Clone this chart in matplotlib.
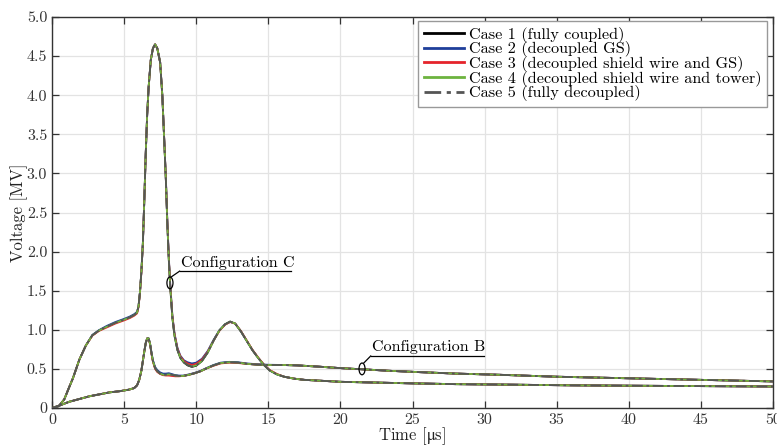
import matplotlib
matplotlib.use("Agg")
import matplotlib.pyplot as plt
from matplotlib.patches import Ellipse

plt.rcParams['font.family'] = ['cmr10', 'DejaVu Serif']
plt.rcParams['mathtext.fontset'] = 'stix'
plt.rcParams['axes.unicode_minus'] = False

# ---------------- data ----------------
t_c = [0, 0.25, 0.5, 0.85, 1.2, 1.45, 1.9, 2.35, 2.8, 3.25, 3.8, 4.4, 5.0, 5.4, 5.7,
       5.9, 6.0, 6.1, 6.2, 6.3, 6.4, 6.5, 6.6, 6.7, 6.85, 7.0, 7.15, 7.3, 7.5, 7.65,
       7.8, 7.9, 8.0, 8.1, 8.2, 8.35, 8.5, 8.7, 8.9, 9.15, 9.4, 9.7, 10.0, 10.4, 10.8,
       11.2, 11.6, 12.0, 12.35, 12.7, 13.1, 13.5, 13.9, 14.3, 14.7, 15.1, 15.6, 16.1,
       16.8, 17.5, 18.5, 20, 22.5, 25, 28, 32, 36, 40, 45, 50]

vc_case1 = [0, 0.005, 0.03, 0.11, 0.27, 0.38, 0.62, 0.80, 0.93, 0.99, 1.04, 1.09, 1.13, 1.16, 1.19,
            1.22, 1.30, 1.48, 1.75, 2.10, 2.65, 3.25, 3.75, 4.10, 4.45, 4.60, 4.65, 4.60, 4.42, 4.00,
            3.35, 2.90, 2.35, 1.90, 1.55, 1.15, 0.92, 0.74, 0.64, 0.58, 0.545, 0.525, 0.54, 0.60, 0.71,
            0.86, 0.99, 1.07, 1.105, 1.08, 0.98, 0.86, 0.74, 0.64, 0.55, 0.48, 0.43, 0.40,
            0.375, 0.36, 0.35, 0.335, 0.325, 0.315, 0.305, 0.298, 0.29, 0.285, 0.28, 0.275]
vc_case2 = [0, 0.005, 0.03, 0.11, 0.27, 0.38, 0.62, 0.80, 0.935, 0.995, 1.05, 1.10, 1.14, 1.17, 1.20,
            1.23, 1.30, 1.48, 1.75, 2.10, 2.65, 3.25, 3.75, 4.10, 4.45, 4.60, 4.65, 4.60, 4.42, 4.00,
            3.36, 2.92, 2.38, 1.93, 1.58, 1.18, 0.95, 0.77, 0.67, 0.61, 0.585, 0.57, 0.58, 0.63, 0.73,
            0.87, 0.99, 1.07, 1.10, 1.08, 0.98, 0.86, 0.74, 0.64, 0.55, 0.48, 0.43, 0.40,
            0.375, 0.36, 0.35, 0.335, 0.325, 0.315, 0.305, 0.298, 0.29, 0.285, 0.28, 0.275]
vc_case3 = [0, 0.005, 0.03, 0.11, 0.27, 0.38, 0.62, 0.80, 0.925, 0.985, 1.03, 1.08, 1.12, 1.15, 1.18,
            1.21, 1.29, 1.47, 1.74, 2.10, 2.65, 3.25, 3.75, 4.10, 4.45, 4.60, 4.65, 4.60, 4.42, 4.00,
            3.36, 2.91, 2.37, 1.92, 1.57, 1.17, 0.94, 0.76, 0.66, 0.60, 0.57, 0.55, 0.565, 0.62, 0.72,
            0.86, 0.985, 1.065, 1.10, 1.08, 0.985, 0.865, 0.745, 0.645, 0.555, 0.485, 0.435, 0.40,
            0.375, 0.36, 0.35, 0.335, 0.325, 0.315, 0.305, 0.298, 0.29, 0.285, 0.28, 0.275]
vc_case4 = [0, 0.005, 0.03, 0.11, 0.27, 0.38, 0.62, 0.80, 0.93, 0.99, 1.04, 1.09, 1.13, 1.16, 1.19,
            1.22, 1.30, 1.48, 1.75, 2.10, 2.65, 3.25, 3.75, 4.10, 4.45, 4.60, 4.65, 4.60, 4.42, 4.00,
            3.35, 2.90, 2.35, 1.90, 1.55, 1.15, 0.92, 0.745, 0.645, 0.585, 0.55, 0.53, 0.545, 0.60, 0.71,
            0.86, 0.99, 1.07, 1.105, 1.08, 0.98, 0.86, 0.74, 0.64, 0.55, 0.48, 0.43, 0.40,
            0.375, 0.36, 0.35, 0.335, 0.325, 0.315, 0.305, 0.298, 0.29, 0.285, 0.28, 0.275]
vc_case5 = [0, 0.005, 0.03, 0.11, 0.27, 0.38, 0.62, 0.80, 0.93, 0.99, 1.04, 1.09, 1.13, 1.16, 1.19,
            1.22, 1.30, 1.48, 1.75, 2.10, 2.65, 3.25, 3.75, 4.10, 4.45, 4.60, 4.65, 4.60, 4.42, 4.00,
            3.35, 2.90, 2.35, 1.90, 1.55, 1.15, 0.925, 0.745, 0.645, 0.585, 0.55, 0.53, 0.545, 0.605, 0.71,
            0.86, 0.99, 1.07, 1.105, 1.08, 0.98, 0.86, 0.74, 0.64, 0.55, 0.48, 0.43, 0.40,
            0.375, 0.36, 0.35, 0.335, 0.325, 0.315, 0.305, 0.298, 0.29, 0.285, 0.28, 0.275]

t_b = [0, 0.5, 1.2, 2.0, 2.6, 3.3, 4.0, 4.7, 5.35, 5.7, 5.9, 6.05, 6.2, 6.3, 6.4, 6.5, 6.6,
       6.7, 6.8, 6.9, 7.0, 7.15, 7.3, 7.5, 7.7, 7.9, 8.1, 8.3, 8.55, 8.8, 9.1, 9.5, 9.9,
       10.3, 10.7, 11.2, 11.7, 12.3, 12.9, 13.5, 14.2, 15.0, 16.0, 17.0, 18.4, 20.0, 21.5,
       23.5, 25.3, 28, 31, 35, 40, 45, 50]

vb_case1 = [0, 0.03, 0.08, 0.12, 0.15, 0.175, 0.20, 0.215, 0.235, 0.255, 0.29, 0.36, 0.48, 0.60, 0.72, 0.83, 0.89,
            0.89, 0.82, 0.70, 0.60, 0.51, 0.47, 0.44, 0.425, 0.425, 0.43, 0.425, 0.415, 0.41, 0.41, 0.425, 0.445,
            0.47, 0.505, 0.545, 0.575, 0.585, 0.58, 0.565, 0.555, 0.55, 0.55, 0.545, 0.53, 0.51, 0.495,
            0.475, 0.46, 0.44, 0.425, 0.40, 0.38, 0.36, 0.34]
vb_case2 = [0, 0.03, 0.08, 0.12, 0.15, 0.175, 0.20, 0.215, 0.235, 0.255, 0.29, 0.36, 0.48, 0.60, 0.72, 0.83, 0.89,
            0.89, 0.825, 0.71, 0.61, 0.525, 0.485, 0.455, 0.44, 0.44, 0.445, 0.435, 0.42, 0.415, 0.415, 0.43, 0.45,
            0.475, 0.51, 0.55, 0.58, 0.59, 0.585, 0.57, 0.56, 0.553, 0.55, 0.545, 0.53, 0.51, 0.495,
            0.475, 0.46, 0.44, 0.425, 0.40, 0.38, 0.36, 0.34]
vb_case3 = [0, 0.03, 0.08, 0.12, 0.15, 0.175, 0.20, 0.215, 0.235, 0.255, 0.29, 0.36, 0.48, 0.60, 0.72, 0.83, 0.89,
            0.885, 0.815, 0.69, 0.59, 0.50, 0.46, 0.435, 0.42, 0.415, 0.415, 0.41, 0.405, 0.405, 0.41, 0.425, 0.445,
            0.47, 0.505, 0.54, 0.57, 0.58, 0.575, 0.565, 0.555, 0.55, 0.55, 0.545, 0.53, 0.51, 0.495,
            0.475, 0.46, 0.44, 0.425, 0.40, 0.38, 0.36, 0.34]
vb_case4 = [0, 0.03, 0.08, 0.12, 0.15, 0.175, 0.20, 0.215, 0.235, 0.255, 0.29, 0.36, 0.48, 0.60, 0.72, 0.83, 0.89,
            0.89, 0.82, 0.70, 0.60, 0.51, 0.47, 0.44, 0.425, 0.425, 0.43, 0.425, 0.415, 0.41, 0.41, 0.425, 0.445,
            0.47, 0.505, 0.545, 0.575, 0.585, 0.58, 0.565, 0.555, 0.55, 0.55, 0.545, 0.53, 0.51, 0.495,
            0.475, 0.46, 0.44, 0.425, 0.40, 0.38, 0.36, 0.34]
vb_case5 = [0, 0.03, 0.08, 0.12, 0.15, 0.175, 0.20, 0.215, 0.235, 0.255, 0.29, 0.36, 0.48, 0.60, 0.72, 0.83, 0.89,
            0.89, 0.82, 0.70, 0.60, 0.51, 0.47, 0.44, 0.425, 0.425, 0.43, 0.425, 0.415, 0.41, 0.41, 0.425, 0.445,
            0.47, 0.505, 0.545, 0.575, 0.585, 0.58, 0.565, 0.555, 0.55, 0.55, 0.545, 0.53, 0.51, 0.495,
            0.475, 0.46, 0.44, 0.425, 0.40, 0.38, 0.36, 0.34]

case_labels = ["Case 1 (fully coupled)", "Case 2 (decoupled GS)",
               "Case 3 (decoupled shield wire and GS)",
               "Case 4 (decoupled shield wire and tower)",
               "Case 5 (fully decoupled)"]
x_ticks = [0, 5, 10, 15, 20, 25, 30, 35, 40, 45, 50]
y_ticks = [0, 0.5, 1.0, 1.5, 2.0, 2.5, 3.0, 3.5, 4.0, 4.5, 5.0]
y_tick_labels = ["0", "0.5", "1.0", "1.5", "2.0", "2.5", "3.0", "3.5", "4.0", "4.5", "5.0"]

# ---------------- plot ----------------
fig = plt.figure(figsize=(7.77, 4.46), dpi=100)
ax = fig.add_axes([52 / 777, 1 - 408 / 446, (773 - 52) / 777, (408 - 17) / 446])

colors = ["#000000", "#1f3f9a", "#e5242b", "#6db33f", "#555555"]
styles = ["-", "-", "-", "-", (0, (6, 2, 1.5, 2))]
vcs = [vc_case1, vc_case2, vc_case3, vc_case4, vc_case5]
vbs = [vb_case1, vb_case2, vb_case3, vb_case4, vb_case5]

for i in range(5):
    ax.plot(t_c, vcs[i], color=colors[i], ls=styles[i], lw=1.3, label=case_labels[i], zorder=3 + i)
    ax.plot(t_b, vbs[i], color=colors[i], ls=styles[i], lw=1.3, zorder=3 + i)

ax.set_xlim(0, 50)
ax.set_ylim(0, 5)
ax.set_xticks(x_ticks)
ax.set_xticklabels([str(v) for v in x_ticks])
ax.set_yticks(y_ticks)
ax.set_yticklabels(y_tick_labels)
ax.grid(True, color="#e3e3e3", lw=0.9)
ax.set_axisbelow(True)
ax.tick_params(direction="in", top=True, right=True, length=5, width=0.9,
               labelsize=11.5, colors="#333333", labelcolor="#333333")
for s in ax.spines.values():
    s.set_color("#333333")
    s.set_linewidth(1.0)

ax.set_xlabel(r"Time [$\mathrm{\mu}$s]", fontsize=12, labelpad=-0.8, color="#222222")
ax.set_ylabel("Voltage [MV]", fontsize=12, labelpad=-1.2, color="#222222")

# annotations
ax.add_patch(Ellipse((8.18, 1.60), 0.42, 0.15, fill=False, ec="black", lw=0.9, zorder=10))
ax.plot([8.3, 8.85], [1.68, 1.75], color="black", lw=0.9, zorder=10)
ax.plot([8.85, 16.6], [1.75, 1.75], color="black", lw=0.9, zorder=10)
ax.text(8.95, 1.77, "Configuration C", fontsize=11.5, ha="left", va="bottom", zorder=10)

ax.add_patch(Ellipse((21.5, 0.50), 0.42, 0.15, fill=False, ec="black", lw=0.9, zorder=10))
ax.plot([21.62, 22.1], [0.575, 0.665], color="black", lw=0.9, zorder=10)
ax.plot([22.1, 29.95], [0.665, 0.665], color="black", lw=0.9, zorder=10)
ax.text(22.2, 0.685, "Configuration B", fontsize=11.5, ha="left", va="bottom", zorder=10)

leg = ax.legend(loc="upper right", bbox_to_anchor=(1 - 6 / 721, 1 - 4 / 391), fontsize=11.7,
                frameon=True, fancybox=False, edgecolor="#999999", framealpha=1,
                handlelength=2.45, handletextpad=0.3, labelspacing=-0.08, borderpad=0.35,
                borderaxespad=0.0)
leg.get_frame().set_linewidth(1.0)
for h in leg.get_lines():
    h.set_linewidth(2.0)
leg.set_zorder(20)

fig.savefig("out.png", dpi=100)
